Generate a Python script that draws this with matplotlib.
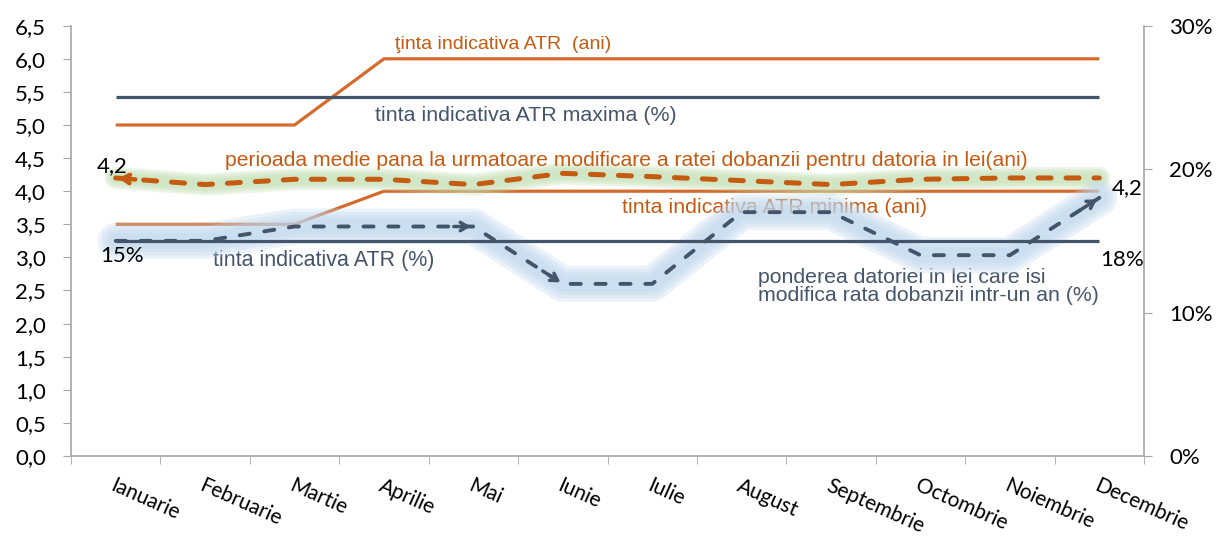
import numpy as np
import matplotlib
matplotlib.use('Agg')
import matplotlib.pyplot as plt

# data
months = ['Ianuarie', 'Februarie', 'Martie', 'Aprilie', 'Mai', 'Iunie', 'Iulie',
          'August', 'Septembrie', 'Octombrie', 'Noiembrie', 'Decembrie']
atr_target_years = [5.0, 5.0, 5.0, 6.0, 6.0, 6.0, 6.0, 6.0, 6.0, 6.0, 6.0, 6.0]
atr_min_years = [3.5, 3.5, 3.5, 4.0, 4.0, 4.0, 4.0, 4.0, 4.0, 4.0, 4.0, 4.0]
avg_period_years = [4.2, 4.1, 4.18, 4.18, 4.1, 4.27, 4.22, 4.16, 4.1, 4.18, 4.2, 4.2]
atr_max_pct = [25] * 12
atr_target_pct = [15] * 12
lei_reset_pct = [15, 15, 16, 16, 16, 12, 12, 17, 17, 14, 14, 18]

left_ticks = np.arange(0, 6.51, 0.5)
right_ticks = [0, 10, 20, 30]

ORANGE = '#D46B2C'
ORANGE_D = '#C55A11'
NAVY = '#44546A'
GRID = '#A6A6A6'
TXT = ['Liberation Sans', 'DejaVu Sans']
NUM = ['Lato', 'DejaVu Sans']

fig = plt.figure(figsize=(12.2, 5.38), dpi=100)
ax = fig.add_axes([71 / 1220, 1 - 456 / 538, (1144 - 71) / 1220, (456 - 25.7) / 538])
ax2 = ax.twinx()
x = np.arange(len(months))

# left axis (years)
ax.plot(x, atr_target_years, color=ORANGE, lw=2.3, solid_capstyle='butt', zorder=2)
ax.plot(x, atr_min_years, color=ORANGE, lw=2.3, solid_capstyle='butt', zorder=2)
for w in [16, 13, 10, 7]:
    ax.plot(x, avg_period_years, color='#C5E0B4', lw=w, alpha=0.3,
            solid_capstyle='round', solid_joinstyle='round', zorder=3)
ax.plot(x, avg_period_years, color=ORANGE_D, lw=3.6, ls=(0, (2.6, 3.0)),
        dash_capstyle='round', zorder=4)
p0 = np.array([x[0], avg_period_years[0]])
p1 = np.array([x[1], avg_period_years[1]])
ax.annotate('', xy=p0, xytext=p0 + 0.25 * (p1 - p0),
            arrowprops=dict(arrowstyle='->,head_length=0.5,head_width=0.3',
                            color=ORANGE_D, lw=3.2), zorder=5)

# right axis (%)
for w in [26, 21, 16, 11]:
    ax2.plot(x, lei_reset_pct, color='#BDD7EE', lw=w, alpha=0.3,
             solid_capstyle='round', solid_joinstyle='round', zorder=1)
ax2.plot(x, atr_max_pct, color=NAVY, lw=2.3, solid_capstyle='butt', zorder=2)
ax2.plot(x, atr_target_pct, color=NAVY, lw=2.3, solid_capstyle='butt', zorder=2)
ax2.plot(x, lei_reset_pct, color=NAVY, lw=2.8, ls=(0, (2.6, 3.8)),
         dash_capstyle='round', zorder=3)
for i in [4, 5, 11]:
    a = np.array([x[i - 1], lei_reset_pct[i - 1]])
    b = np.array([x[i], lei_reset_pct[i]])
    ax2.annotate('', xy=b, xytext=a + 0.75 * (b - a),
                 arrowprops=dict(arrowstyle='->,head_length=0.5,head_width=0.3',
                                 color=NAVY, lw=2.5), zorder=4)

# series labels
ax.text(3.12, 6.21, 'ţinta indicativa ATR  (ani)', color=ORANGE_D, fontsize=14,
        family=TXT, ha='left', va='center')
ax.text(2.90, 5.15, 'tinta indicativa ATR maxima (%)', color=NAVY, fontsize=15.4,
        family=TXT, ha='left', va='center')
ax.text(1.22, 4.47, 'perioada medie pana la urmatoare modificare a ratei dobanzii pentru datoria in lei(ani)',
        color=ORANGE_D, fontsize=15.2, family=TXT, ha='left', va='center')
ax.text(5.66, 3.76, 'tinta indicativa ATR minima (ani)', color=ORANGE_D, fontsize=15.4,
        family=TXT, ha='left', va='center', zorder=1)
ax.text(1.09, 2.95, 'tinta indicativa ATR (%)', color=NAVY, fontsize=15.5,
        family=TXT, ha='left', va='center')
ax.text(7.18, 2.56, 'ponderea datoriei in lei care isi\nmodifica rata dobanzii intr-un an (%)',
        color=NAVY, fontsize=15.3, family=TXT, ha='left', va='center', linespacing=0.92)

# data labels, on top of the glow
for tx, ty, s in [(-0.04, 4.38, '4,2'), (11.31, 4.05, '4,2'),
                  (0.07, 3.02, '15%'), (11.25, 2.96, '18%')]:
    ax2.text(tx, ty, s, transform=ax.transData, fontsize=16, family=NUM,
             ha='center', va='center', zorder=6)

# axes
ax.set_xlim(-0.5, 11.5)
ax.set_ylim(0, 6.5)
ax2.set_ylim(0, 30)
ax.set_yticks(left_ticks)
ax.set_yticklabels([f'{v:.1f}'.replace('.', ',') for v in left_ticks], family=NUM, fontsize=16)
ax2.set_yticks(right_ticks)
ax2.set_yticklabels([f'{v}%' for v in right_ticks], family=NUM, fontsize=16)
ax.set_xticks(x)
ax.set_xticklabels(months, family=NUM, fontsize=15, rotation=-24, ha='left', va='top',
                   rotation_mode='anchor')
ax.set_xticks(np.arange(-0.5, 12, 1), minor=True)
ax.tick_params(axis='x', which='major', length=0, pad=14)
ax.tick_params(axis='x', which='minor', length=6, color=GRID)
ax.tick_params(axis='y', length=6, color=GRID, pad=12)
ax2.tick_params(axis='y', length=6, color=GRID, pad=12)

for a in (ax, ax2):
    a.spines['top'].set_visible(False)
    for s in ('left', 'right', 'bottom'):
        a.spines[s].set_color(GRID)
        a.spines[s].set_linewidth(1.2)
ax.spines['right'].set_visible(False)
ax2.spines['left'].set_visible(False)
ax2.spines['bottom'].set_visible(False)

fig.savefig('out.png', dpi=100)
